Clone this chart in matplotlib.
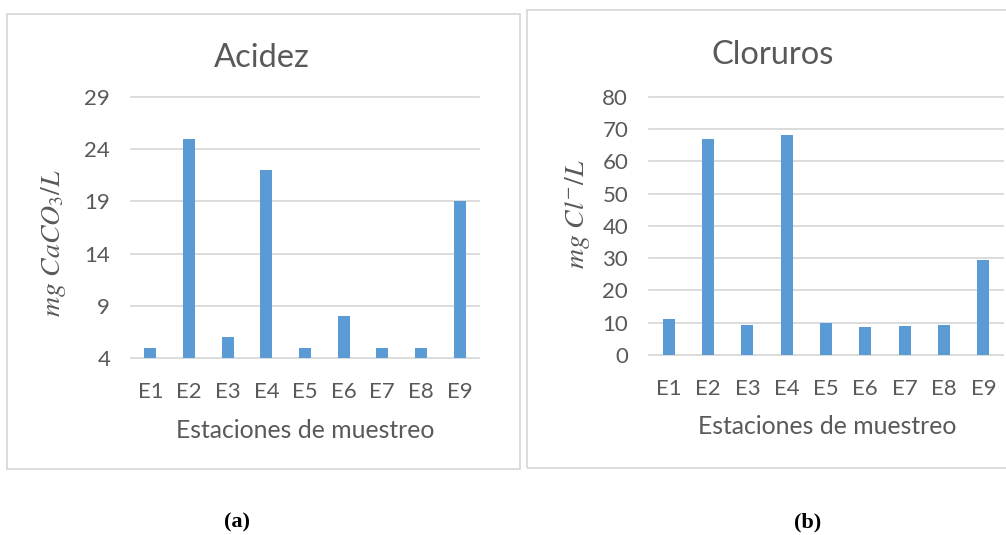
import matplotlib
matplotlib.use("Agg")
import matplotlib.pyplot as plt
from matplotlib.patches import Rectangle

plt.rcParams['font.family'] = ['Lato', 'DejaVu Sans']
plt.rcParams['mathtext.fontset'] = 'stix'

stations = ["E1", "E2", "E3", "E4", "E5", "E6", "E7", "E8", "E9"]
acidez = [5, 25, 6, 22, 5, 8, 5, 5, 19]
cloruros = [11, 67, 9.3, 68, 10, 8.8, 9, 9.3, 29.4]
acidez_ticks = [4, 9, 14, 19, 24, 29]
cloruros_ticks = [0, 10, 20, 30, 40, 50, 60, 70, 80]

BAR = "#5B9BD5"
GRID = "#D9D9D9"
TXT = "#595959"

W, H = 1006, 535
fig = plt.figure(figsize=(W / 100, H / 100), dpi=100)


def fx(px):
    return px / W


def fy(py):
    return 1 - py / H


# chart frames
fig.patches.append(Rectangle((fx(7), fy(469)), fx(513), (469 - 14) / H,
                             transform=fig.transFigure, fill=False,
                             edgecolor=GRID, linewidth=1.3))
fig.patches.append(Rectangle((fx(527), fy(468)), fx(490), (468 - 10) / H,
                             transform=fig.transFigure, fill=False,
                             edgecolor=GRID, linewidth=1.3))


def panel(rect, values, ticks, title, ylabel, title_xy, xlabel_xy, ylabel_xy):
    ax = fig.add_axes(rect)
    x = range(len(stations))
    ax.bar(x, values, width=0.31, color=BAR, zorder=3)
    ax.set_xlim(-0.5, len(stations) - 0.5)
    ax.set_ylim(ticks[0], ticks[-1])
    ax.set_yticks(ticks)
    ax.set_xticks(list(x))
    ax.set_xticklabels(stations)
    for s in ax.spines.values():
        s.set_visible(False)
    ax.tick_params(axis='both', length=0, labelsize=16, colors=TXT)
    ax.tick_params(axis='y', pad=15)
    ax.tick_params(axis='x', pad=17)
    for t in ticks:
        ax.axhline(t, color=GRID, linewidth=1.3, zorder=1, clip_on=False)
    ax.set_facecolor('none')
    fig.text(fx(title_xy[0]), fy(title_xy[1]), title, ha='center', va='center',
             fontsize=23.5, color=TXT)
    fig.text(fx(xlabel_xy[0]), fy(xlabel_xy[1]), "Estaciones de muestreo",
             ha='center', va='center', fontsize=17.8, color=TXT)
    fig.text(fx(ylabel_xy[0]), fy(ylabel_xy[1]), ylabel, ha='center', va='center',
             rotation=90, fontsize=20, color=TXT)
    return ax


panel([fx(131), fy(358), fx(479 - 131), (358 - 97) / H], acidez, acidez_ticks,
      "Acidez", r"$mg\ CaCO_3/L$", (262, 58), (305, 430), (53, 243))
panel([fx(649), fy(355), fx(1003 - 649), (355 - 96.7) / H], cloruros, cloruros_ticks,
      "Cloruros", r"$mg\ Cl^{-}/L$", (773, 55), (827, 426), (577, 214))

fig.text(fx(237), fy(522), "(a)", ha='center', va='center', fontsize=16,
         fontweight='bold', family='Liberation Serif', color='black')
fig.text(fx(808), fy(522), "(b)", ha='center', va='center', fontsize=16,
         fontweight='bold', family='Liberation Serif', color='black')

fig.savefig("out.png", dpi=100, facecolor='white')
